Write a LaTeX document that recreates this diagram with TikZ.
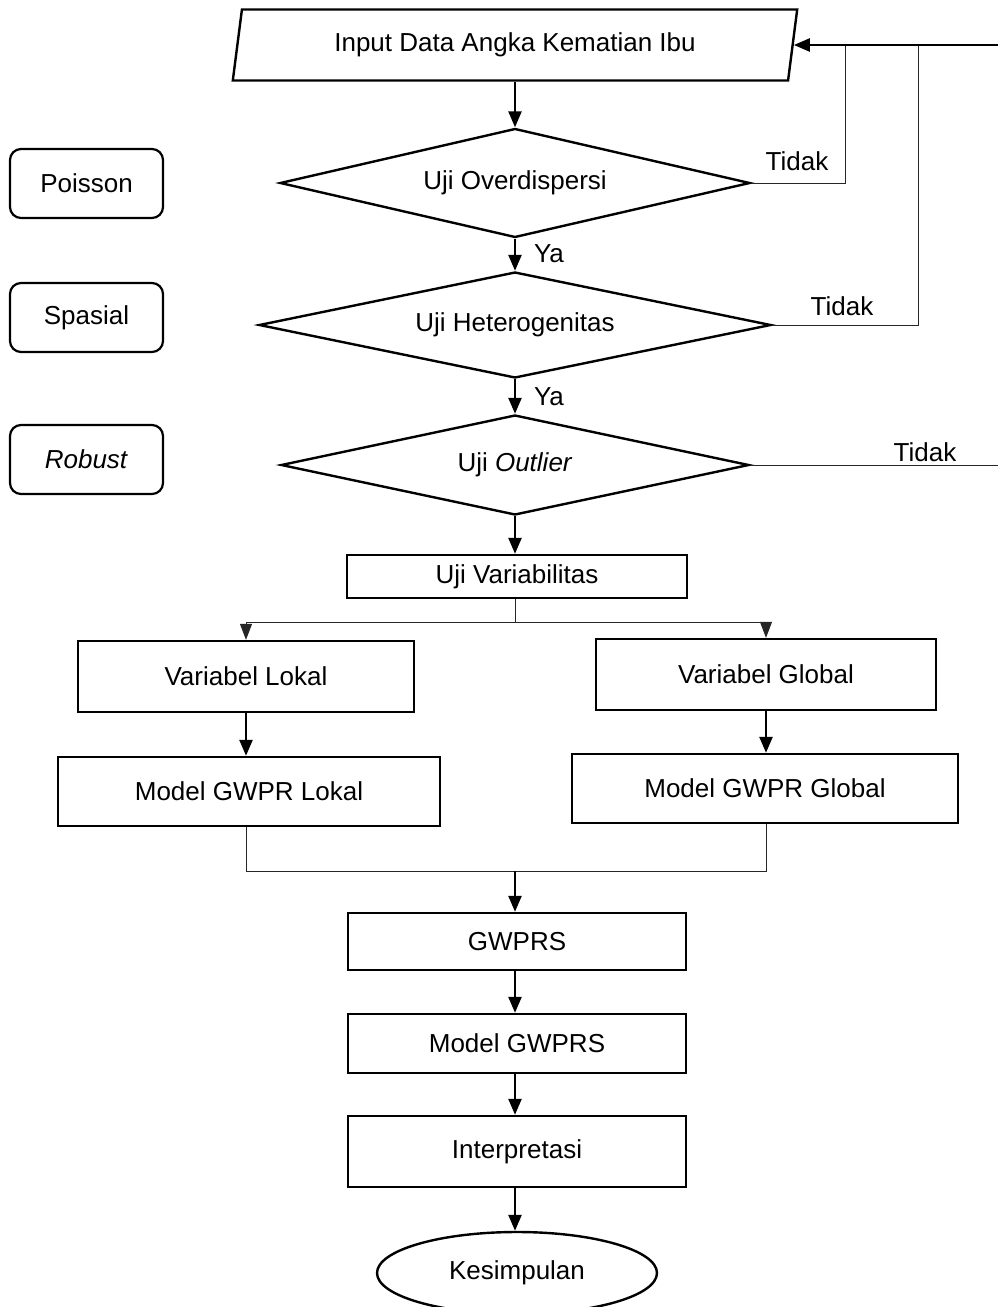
\documentclass[tikz,border=0pt]{standalone}
\usepackage{fontspec}
\setmainfont{Liberation Sans}
\usetikzlibrary{shapes.geometric,arrows.meta}
\begin{document}
\begin{tikzpicture}[x=1pt,y=-1pt,
  every node/.style={font=\fontsize{26}{30}\selectfont},
  box/.style={draw, line width=2.4pt, inner sep=0pt},
  rbox/.style={draw, line width=2.2pt, rounded corners=11pt, minimum width=153pt, minimum height=69pt, inner sep=0pt},
  dec/.style={draw, diamond, line width=2.4pt, aspect=5, inner sep=0pt},
  arr/.style={line width=2.4pt, -{Triangle[length=16pt,width=13pt]}},
  thinline/.style={line width=1pt, draw=black!85},
  tarr/.style={line width=1pt, draw=black!85, -{Triangle[length=16pt,width=12pt]}},
  lab/.style={inner sep=0pt, anchor=base}
]
\fill[white] (0,0) rectangle (998,1307);
\useasboundingbox (0,0) rectangle (998,1307);

% main column
\node[draw, trapezium, trapezium left angle=76, trapezium right angle=104,
      trapezium stretches=true, minimum width=566pt, minimum height=71pt,
      line width=2.4pt, inner sep=0pt] (input) at (515,45) {Input Data Angka Kematian Ibu};
\node[dec, minimum width=470pt, minimum height=109pt] (d1) at (515,183) {Uji Overdispersi};
\node[dec, minimum width=512pt, minimum height=106pt] (d2) at (515,325) {Uji Heterogenitas};
\node[dec, minimum width=468pt, minimum height=100pt] (d3) at (515,465) {Uji \textit{Outlier}};
\node[box, minimum width=340pt, minimum height=43pt] (var) at (517,576.5) {Uji Variabilitas};
\node[box, minimum width=336pt, minimum height=71pt] (lok) at (246,676.5) {Variabel Lokal};
\node[box, minimum width=340pt, minimum height=71pt] (glob) at (766,674.5) {Variabel Global};
\node[box, minimum width=382pt, minimum height=69pt] (mlok) at (249,791.5) {Model GWPR Lokal};
\node[box, minimum width=386pt, minimum height=69pt] (mglob) at (765,788.5) {Model GWPR Global};
\node[box, minimum width=338pt, minimum height=57pt] (gwprs) at (517,941.5) {GWPRS};
\node[box, minimum width=338pt, minimum height=59pt] (mgwprs) at (517,1043.5) {Model GWPRS};
\node[box, minimum width=338pt, minimum height=71pt] (interp) at (517,1151.5) {Interpretasi};
\node[draw, ellipse, line width=2.4pt, minimum width=280pt, minimum height=82pt, inner sep=0pt] (kes) at (517,1273) {Kesimpulan};

% left boxes
\node[rbox] (poisson) at (86.5,183.5) {Poisson};
\node[rbox] (spasial) at (86.5,317.5) {Spasial};
\node[rbox] (robust) at (86.5,459.5) {\textit{Robust}};

% labels
\node[lab] (ya1) at (549,262) {Ya};
\node[lab] (ya2) at (549,405) {Ya};
\node[lab] (t1) at (797,170) {Tidak};
\node[lab] (t2) at (842,315) {Tidak};
\node[lab] (t3) at (925,461) {Tidak};

% coordinates
\coordinate (c1) at (845,45);
\coordinate (c2) at (918,45);
\coordinate (c3) at (1000,45);
\coordinate (sp) at (515,622);
\coordinate (mg) at (515,871);

% connectors
\draw[arr] (input.south -| d1.north) -- (d1.north);
\draw[arr] (d1.south) -- (d2.north);
\draw[arr] (d2.south) -- (d3.north);
\draw[arr] (d3.south) -- (d3.south |- var.north);
\draw[thinline] (d1.east) -| (c1);
\draw[thinline] (d2.east) -| (c2);
\draw[thinline] (d3.east) -- (d3.east -| c3);
\draw[arr] (c3) -- (input.east);

\draw[thinline] (sp |- var.south) -- (sp);
\draw[tarr] (sp) -| (lok.north);
\draw[tarr] (sp) -| (glob.north);
\draw[arr] (lok.south) -- (lok.south |- mlok.north);
\draw[arr] (glob.south) -- (glob.south |- mglob.north);
\draw[thinline] (lok.south |- mlok.south) |- (mg);
\draw[thinline] (glob.south |- mglob.south) |- (mg);
\draw[arr] (mg) -- (mg |- gwprs.north);
\draw[arr] (gwprs.south -| mg) -- (mg |- mgwprs.north);
\draw[arr] (mgwprs.south -| mg) -- (mg |- interp.north);
\draw[arr] (interp.south -| mg) -- (mg |- kes.north);
\end{tikzpicture}
\end{document}
